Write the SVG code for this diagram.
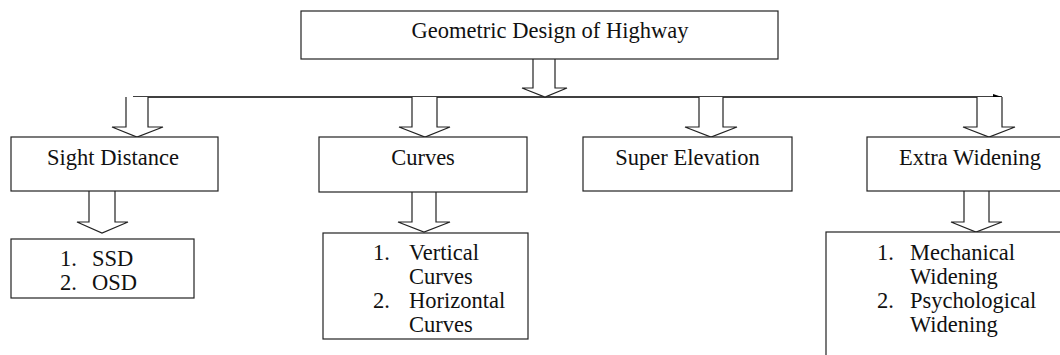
<svg xmlns="http://www.w3.org/2000/svg" width="1060" height="355" viewBox="0 0 1060 355">
<style>
.box{fill:#fff;stroke:#222;stroke-width:1.2}
.arr{fill:#fff;stroke:#222;stroke-width:1.2;stroke-linejoin:miter}
.t{font-size:22.5px;fill:#111}
.c{text-anchor:middle}
.line{stroke:#000;stroke-width:1.6;fill:none}
</style>
<defs>
<marker id="hd" markerWidth="10" markerHeight="6" refX="9" refY="4" orient="auto" markerUnits="userSpaceOnUse">
<path d="M0,1 L9,4 L0,4 Z" fill="#000"/>
</marker>
</defs>
<rect width="1060" height="355" fill="#fff"/>
<g id="connectors">
<line class="line" x1="545" y1="97" x2="1002" y2="97" marker-end="url(#hd)"/>
<line class="line" x1="545" y1="97" x2="133" y2="97" marker-end="url(#hd)"/>
<path class="arr" d="M533,59 V88 H522 L545,97 L567,88 H555 V59"/>
<path class="arr" d="M126,97 V127 H112 L137,137 L163,127 H148 V97"/>
<path class="arr" d="M412,97 V127 H399 L425,137 L450,127 H437 V97"/>
<path class="arr" d="M699,97 V127 H685 L711,137 L737,127 H723 V97"/>
<path class="arr" d="M977,97 V127 H963 L989,137 L1015,127 H1002 V97"/>
<path class="arr" d="M89,191 V222 H77 L102,233 L128,222 H115 V191"/>
<path class="arr" d="M412,191 V222 H398 L424,232 L450,222 H436 V191"/>
<path class="arr" d="M964,191 V222 H951 L976,232 L1002,222 H989 V191"/>
</g>
<g font-family="'Liberation Serif', 'DejaVu Serif', serif">
<g id="top">
<rect class="box" x="301" y="11" width="477" height="48"/>
<text class="t c" x="550" y="38">Geometric Design of Highway</text>
</g>
<g id="sight">
<rect class="box" x="11" y="137" width="207" height="54"/>
<text class="t c" x="113" y="165">Sight Distance</text>
</g>
<g id="curves">
<rect class="box" x="319" y="137" width="208" height="55"/>
<text class="t c" x="423" y="165">Curves</text>
</g>
<g id="super">
<rect class="box" x="583" y="137" width="209" height="54"/>
<text class="t c" x="687.5" y="165">Super Elevation</text>
</g>
<g id="extra">
<rect class="box" x="867" y="137" width="220" height="54"/>
<text class="t c" x="970" y="165">Extra Widening</text>
</g>
<g id="sight-list">
<rect class="box" x="11" y="239" width="183" height="59"/>
<text class="t" x="60" y="266">1.</text><text class="t" x="92" y="266">SSD</text>
<text class="t" x="60" y="290">2.</text><text class="t" x="92" y="290">OSD</text>
</g>
<g id="curves-list">
<rect class="box" x="323" y="233" width="205" height="106"/>
<text class="t" x="373" y="260">1.</text><text class="t" x="409" y="260">Vertical</text>
<text class="t" x="409" y="284">Curves</text>
<text class="t" x="373" y="308">2.</text><text class="t" x="409" y="308">Horizontal</text>
<text class="t" x="409" y="332">Curves</text>
</g>
<g id="extra-list">
<rect class="box" x="826" y="232" width="260" height="140"/>
<text class="t" x="877" y="260">1.</text><text class="t" x="910" y="260">Mechanical</text>
<text class="t" x="910" y="284">Widening</text>
<text class="t" x="877" y="308">2.</text><text class="t" x="910" y="308">Psychological</text>
<text class="t" x="910" y="332">Widening</text>
</g>
</g>
</svg>
